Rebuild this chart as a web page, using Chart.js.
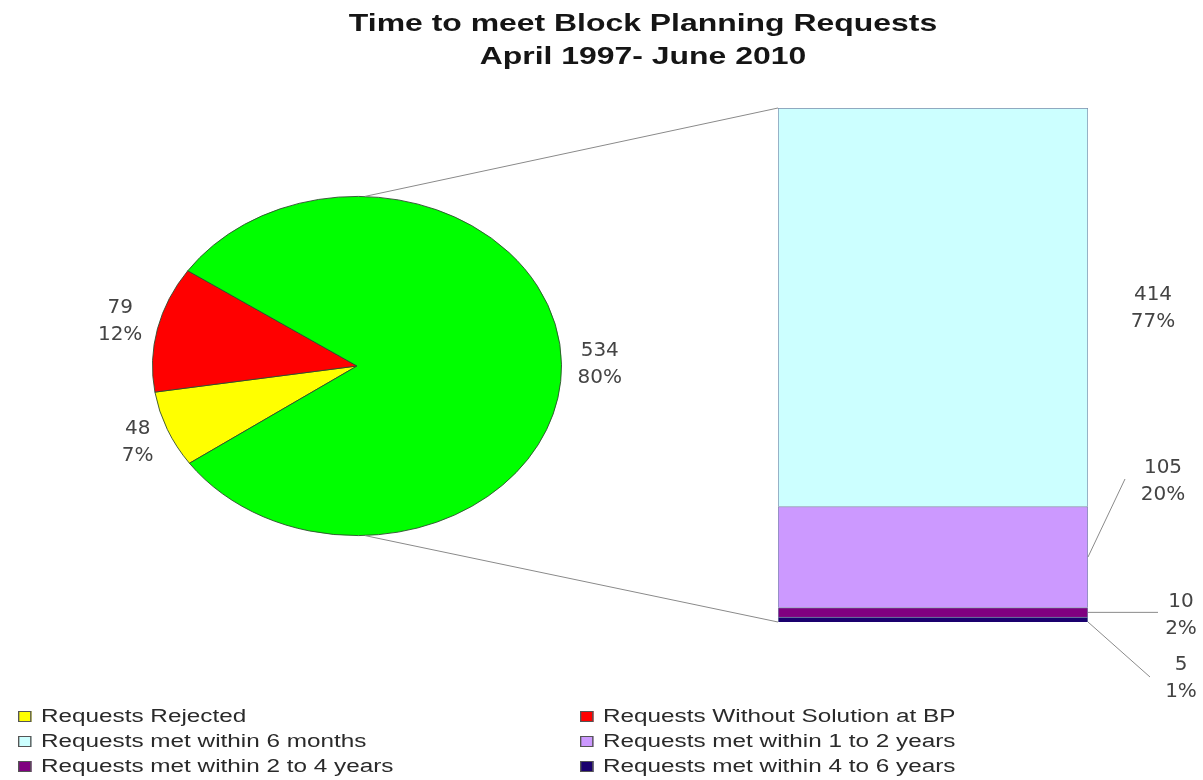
<!DOCTYPE html>
<html>
<head>
<meta charset="utf-8">
<script src="https://cdn.jsdelivr.net/npm/chart.js@4.4.0/dist/chart.umd.min.js"></script>
<style>
  body { margin: 0; background: #fff; font-family: "Liberation Sans", Arial, sans-serif; }
  #wrap { position: relative; width: 1203px; height: 780px; overflow: hidden; }
  canvas { position: absolute; left: 0; top: 0; }
  .title { position: absolute; left: 643px; white-space: nowrap; font-weight: bold; font-size: 24px; color: #151515;
           transform: translateX(-50%) scaleX(1.33); }
  #legend { position: absolute; left: 18px; top: 706px; width: 1180px; font-size: 18px; color: #2a2a2a; }
  .item { position: absolute; white-space: nowrap; transform: scaleX(1.35); transform-origin: left center; }
  .box { display: inline-block; width: 8px; height: 9px; border: 1px solid #555; margin-right: 7px; vertical-align: 0px; }
</style>
</head>
<body>
<div id="wrap">
  <canvas id="barChart" width="1203" height="780"></canvas>
  <canvas id="pieChart" width="1203" height="780"></canvas>
  <div class="title" style="top:9px">Time to meet Block Planning Requests</div>
  <div class="title" style="top:42px">April 1997- June 2010</div>
  <div id="legend"></div>
</div>
<script>
// pie: all requests
const pieLabels = ['Requests Rejected', 'Requests Without Solution at BP', 'Requests Met'];
const pieValues = [48, 79, 534];
const piePercents = [7, 12, 80];
const pieColors = ['#ffff00', '#ff0000', '#00ff00'];

// bar: breakdown of the met requests
const barLabels = ['Requests met within 6 months', 'Requests met within 1 to 2 years',
                   'Requests met within 2 to 4 years', 'Requests met within 4 to 6 years'];
const barValues = [414, 105, 10, 5];
const barPercents = [77, 20, 2, 1];
const barColors = ['#ccffff', '#cc99ff', '#800080', '#1a006e'];

const barTotal = barValues.reduce((a, b) => a + b, 0);

const SX = 1.206;  // pie is drawn as an ellipse
const labelFont = '20px "DejaVu Sans", sans-serif';
const labelColor = '#444';

function drawLabel(ctx, value, percent, x, y) {
    ctx.fillText(String(value), x, y - 13.5);
    ctx.fillText(percent + '%', x, y + 13.5);
}

const ellipse = {
    id: 'ellipse',
    beforeDatasetsDraw(chart) {
        const a = chart.chartArea;
        const cx = (a.left + a.right) / 2;
        chart.ctx.save();
        chart.ctx.translate(cx, 0);
        chart.ctx.scale(SX, 1);
        chart.ctx.translate(-cx, 0);
    },
    afterDatasetsDraw(chart) {
        chart.ctx.restore();
    },
    afterDraw(chart) {
        const ctx = chart.ctx;
        const arcs = chart.getDatasetMeta(0).data;
        const cx = arcs[0].x, cy = arcs[0].y, r = arcs[0].outerRadius;
        // lines to the bar
        const bar = Chart.getChart('barChart').chartArea;
        ctx.save();
        ctx.strokeStyle = '#8a8a8a';
        ctx.lineWidth = 1;
        ctx.beginPath();
        ctx.moveTo(cx + 8, cy - r); ctx.lineTo(bar.left, bar.top);
        ctx.moveTo(cx + 8, cy + r); ctx.lineTo(bar.left, bar.bottom);
        ctx.stroke();
        // value labels, outside end
        ctx.font = labelFont;
        ctx.fillStyle = labelColor;
        ctx.textAlign = 'center';
        ctx.textBaseline = 'middle';
        arcs.forEach((el, i) => {
            const mid = (el.startAngle + el.endAngle) / 2;
            const c = Math.cos(mid), s = Math.sin(mid);
            const w = Math.max(ctx.measureText(String(pieValues[i])).width,
                               ctx.measureText(piePercents[i] + '%').width);
            const x = cx + r * SX * c + 16 * c + c * w / 2;
            const y = cy + r * s + 14 * s + s * 22;
            drawLabel(ctx, pieValues[i], piePercents[i], x, y);
        });
        ctx.restore();
    }
};

const barLabelsPlugin = {
    id: 'barLabels',
    afterDraw(chart) {
        const ctx = chart.ctx;
        const right = chart.chartArea.right;
        const y = chart.scales.y;
        // segment bounds, stacked from the bottom
        let acc = 0;
        const seg = [];
        for (let i = barValues.length - 1; i >= 0; i--) {
            seg[i] = { lo: y.getPixelForValue(acc), hi: y.getPixelForValue(acc + barValues[i]) };
            acc += barValues[i];
        }
        // leader: start y on bar edge, then end point, then label centre
        const leaders = [
            null,
            { y0: (seg[1].lo + seg[1].hi) / 2, x1: right + 37, y1: 479, lx: right + 75, ly: 481 },
            { y0: (seg[2].lo + seg[2].hi) / 2, x1: right + 70, y1: null, lx: right + 93, ly: 615 },
            { y0: seg[3].lo, x1: right + 62, y1: 677, lx: right + 93, ly: 678 }
        ];
        ctx.save();
        ctx.strokeStyle = '#8a8a8a';
        ctx.lineWidth = 1;
        ctx.font = labelFont;
        ctx.fillStyle = labelColor;
        ctx.textAlign = 'center';
        ctx.textBaseline = 'middle';
        barValues.forEach((v, i) => {
            const l = leaders[i];
            if (!l) {
                drawLabel(ctx, v, barPercents[i], right + 65, (seg[i].lo + seg[i].hi) / 2 + 1);
                return;
            }
            ctx.beginPath();
            ctx.moveTo(right, l.y0);
            ctx.lineTo(l.x1, l.y1 === null ? l.y0 : l.y1);
            ctx.stroke();
            drawLabel(ctx, v, barPercents[i], l.lx, l.ly);
        });
        ctx.restore();
    }
};

new Chart(document.getElementById('barChart'), {
    type: 'bar',
    data: {
        labels: ['Met'],
        datasets: barValues.map((v, i) => ({
            label: barLabels[i],
            data: [v],
            backgroundColor: barColors[i],
            borderColor: '#7d8cab',
            borderWidth: 1,
            barPercentage: 1,
            categoryPercentage: 1
        })).reverse()
    },
    options: {
        responsive: false,
        animation: false,
        layout: { padding: { left: 778, right: 115, top: 108, bottom: 158 } },
        scales: {
            x: { stacked: true, display: false },
            y: { stacked: true, display: false, min: 0, max: barTotal }
        },
        plugins: { legend: { display: false }, tooltip: { enabled: false } }
    },
    plugins: [barLabelsPlugin]
});

new Chart(document.getElementById('pieChart'), {
    type: 'pie',
    data: {
        labels: pieLabels,
        datasets: [{
            data: pieValues,
            backgroundColor: pieColors,
            borderColor: '#2d4a2d',
            borderWidth: 0.8
        }]
    },
    options: {
        responsive: false,
        animation: false,
        rotation: 235,
        layout: { padding: { left: 187, right: 676, top: 196, bottom: 244 } },
        plugins: { legend: { display: false }, tooltip: { enabled: false } }
    },
    plugins: [ellipse]
});

// legend, two columns
const legendItems = [
    [pieLabels[0], pieColors[0]], [pieLabels[1], pieColors[1]],
    [barLabels[0], barColors[0]], [barLabels[1], barColors[1]],
    [barLabels[2], barColors[2]], [barLabels[3], barColors[3]]
];
const legend = document.getElementById('legend');
legendItems.forEach(([text, color], i) => {
    const d = document.createElement('div');
    d.className = 'item';
    d.style.left = (i % 2 ? 562 : 0) + 'px';
    d.style.top = (Math.floor(i / 2) * 25) + 'px';
    d.innerHTML = '<span class="box" style="background:' + color + '"></span>' + text;
    legend.appendChild(d);
});
</script>
</body>
</html>
